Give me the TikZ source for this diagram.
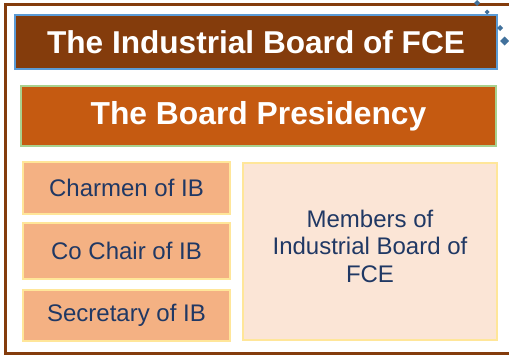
\documentclass[tikz,border=0pt]{standalone}
\usepackage{fontspec}
\setmainfont{Liberation Sans}
\usepackage{tikz}
\usetikzlibrary{positioning}
\definecolor{boardbrown}{HTML}{843C0C}
\definecolor{boardblue}{HTML}{5B9BD5}
\definecolor{presorange}{HTML}{C55A11}
\definecolor{presgreen}{HTML}{A9D18E}
\definecolor{rolepeach}{HTML}{F4B183}
\definecolor{roleyellow}{HTML}{FFE699}
\definecolor{memberpink}{HTML}{FBE5D6}
\definecolor{textnavy}{HTML}{203864}
\definecolor{handleblue}{HTML}{41719C}

\begin{document}
\begin{tikzpicture}[x=1pt,y=-1pt,
    titlebox/.style={draw=boardblue, fill=boardbrown, line width=2.5pt, text=white, inner sep=0pt,
        font=\fontsize{31.6}{38}\selectfont\bfseries},
    presbox/.style={draw=presgreen, fill=presorange, line width=2.5pt, text=white, inner sep=0pt,
        font=\fontsize{31.8}{38}\selectfont\bfseries},
    rolebox/.style={draw=roleyellow, fill=rolepeach, line width=2.5pt, text=textnavy, inner sep=0pt,
        minimum width=207pt, font=\fontsize{24}{27.5}\selectfont},
    memberbox/.style={draw=roleyellow, fill=memberpink, line width=2.5pt, text=textnavy, inner sep=0pt,
        align=center, font=\fontsize{24}{27.5}\selectfont}]
                \useasboundingbox (0,0) rectangle (509,356);
                \draw [boardbrown, line width=3pt] (509,4) -- (5.5,4) -- (5.5,353.5) -- (509,353.5);
                \node [titlebox, minimum width=482pt, minimum height=54pt] (board) at (256,42) {The Industrial Board of FCE};
                \node [presbox, minimum width=475pt, minimum height=60pt] (presidency) at (258.5,116) {The Board Presidency};
                \node [rolebox, minimum width=207pt, minimum height=52pt] (chairman) at (126.5,188) {Charmen of IB};
                \node [rolebox, minimum height=56pt] (cochair) at (126.5,251) {Co Chair of IB};
                \node [rolebox, minimum height=51pt] (secretary) at (126.5,315.5) {Secretary of IB};
                \node [memberbox, minimum width=254pt, minimum height=177pt] (members) at (370,251.5) {};
                \node [text=textnavy, align=center, font=\fontsize{24}{27.5}\selectfont] (memberstext) at (370,246) {Members of\\Industrial Board of\\FCE};
                \fill [handleblue] (477,0) -- (480,3) -- (477,6) -- (474,3) -- cycle;
                \fill [handleblue] (487,9.5) -- (489.5,12) -- (487,14.5) -- (484.5,12) -- cycle;
                \fill [handleblue] (500,25) -- (503,28) -- (500,31) -- (497,28) -- cycle;
                \fill [handleblue] (504.5,36.5) -- (509,41) -- (504.5,45.5) -- (500,41) -- cycle;
            \end{tikzpicture}
\end{document}
